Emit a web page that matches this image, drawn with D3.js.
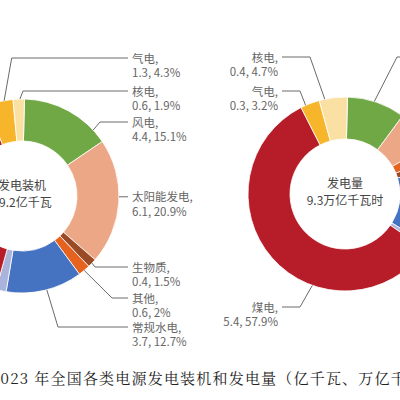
<!DOCTYPE html>
<html>
<head>
<meta charset="utf-8">
<script src="https://cdn.jsdelivr.net/npm/d3@7"></script>
<style>
  body { margin: 0; background: #fff; }
  svg { display: block; }
</style>
</head>
<body>
<div id="chart"></div>
<script>
// 装机容量（亿千瓦）
const capCategories = ['风电', '太阳能发电', '生物质', '其他', '常规水电', '抽水蓄能', '煤电', '气电', '核电'];
const capValues = [4.4, 6.1, 0.4, 0.6, 3.7, 0.5, 11.6, 1.3, 0.6];
const capShares = [15.1, 20.9, 1.5, 2, 12.7, 1.7, 39.9, 4.3, 1.9];

// 发电量（万亿千瓦时）
const genCategories = ['风电', '太阳能发电', '其他', '生物质', '常规水电', '抽水蓄能', '煤电', '气电', '核电'];
const genValues = [0.9, 0.6, 0.2, 0.1, 1.3, 0.1, 5.4, 0.3, 0.4];
const genShares = [9.7, 6.5, 2.2, 1.5, 13.5, 0.8, 57.9, 3.2, 4.7];

const centerTexts = [['发电装机', '29.2亿千瓦'], ['发电量', '9.3万亿千瓦时']];
const titleText = '2023 年全国各类电源发电装机和发电量（亿千瓦、万亿千瓦时）';

const colors = d3.scaleOrdinal()
    .domain(['风电', '太阳能发电', '生物质', '其他', '常规水电', '抽水蓄能', '煤电', '气电', '核电'])
    .range(['#70a845', '#eca886', '#9a4a24', '#e6621f', '#4672c2', '#aab3dc', '#b71d28', '#f6b52a', '#fbe0a3']);

const width = 400, height = 400;
const svg = d3.select('#chart').append('svg')
    .attr('width', width)
    .attr('height', height);

const offset = 1.5 * Math.PI / 180;
const font = '"Noto Sans CJK SC", "Noto Sans", sans-serif';

// 引线布局: t = 扇区内位置, elbow / end = 折点与终点
const capLabels = [
    { cat: '气电', t: 0.66, elbow: [11.7, 58], end: [128, 58], tx: 132, anchor: 'start' },
    { cat: '核电', t: 0.6, elbow: [23, 91], end: [128, 91], tx: 132, anchor: 'start' },
    { cat: '风电', t: 0.84, elbow: [100, 122], end: [128, 122], tx: 132, anchor: 'start' },
    { cat: '太阳能发电', t: 0.46, elbow: null, end: [128, 197], tx: 132, anchor: 'start' },
    { cat: '生物质', t: 0.5, elbow: [95, 267], end: [128, 267], tx: 132, anchor: 'start' },
    { cat: '其他', t: 0.5, elbow: [112, 298], end: [128, 298], tx: 132, anchor: 'start' },
    { cat: '常规水电', t: 0.47, elbow: [58, 327], end: [128, 327], tx: 132, anchor: 'start' }
];
const genLabels = [
    { cat: '核电', t: 0.2, elbow: [310, 57], end: [282, 57], tx: 278, anchor: 'end' },
    { cat: '气电', t: 0.26, elbow: [300, 91], end: [282, 91], tx: 278, anchor: 'end' },
    { cat: '风电', t: 0.46, elbow: [397, 57], end: [420, 57], tx: null }, // 标签在画面外
    { cat: '煤电', t: 0.36, elbow: [300, 307], end: [282, 307], tx: 278, anchor: 'end' }
];

function drawDonut (cx, cy, cats, values, shares, labels, texts) {
    const rows = cats.map((c, i) => ({ cat: c, value: values[i], share: shares[i] }));
    const rOuter = 97, rInner = 55;
    const pie = d3.pie().sort(null).value(d => d.share)
        .startAngle(offset).endAngle(offset + 2 * Math.PI);
    const arcs = pie(rows);
    const arc = d3.arc().innerRadius(rInner).outerRadius(rOuter);

    const g = svg.append('g').attr('transform', `translate(${cx},${cy})`);
    g.selectAll('path.slice')
        .data(arcs)
        .enter()
        .append('path')
        .attr('class', 'slice')
        .attr('d', arc)
        .attr('fill', d => colors(d.data.cat))
        .attr('stroke', '#fff')
        .attr('stroke-width', 0.8);

    g.selectAll('text.center')
        .data(texts)
        .enter()
        .append('text')
        .attr('class', 'center')
        .attr('text-anchor', 'middle')
        .attr('y', (d, i) => i === 0 ? -6 : 11)
        .attr('font-family', font)
        .attr('font-size', 12)
        .attr('fill', '#444')
        .text(d => d);

    labels.forEach(l => {
        const a = arcs.find(d => d.data.cat === l.cat);
        const ang = a.startAngle + l.t * (a.endAngle - a.startAngle);
        const start = [cx + rOuter * Math.sin(ang), cy - rOuter * Math.cos(ang)];
        const pts = l.elbow ? [start, l.elbow, l.end] : [start, [l.end[0], start[1]]];
        svg.append('path')
            .attr('d', d3.line()(pts))
            .attr('fill', 'none')
            .attr('stroke', '#6a6a6a')
            .attr('stroke-width', 1);
        if (l.tx === null) return;
        const ly = l.elbow ? l.end[1] : start[1];
        const t = svg.append('text')
            .attr('text-anchor', l.anchor)
            .attr('font-family', font)
            .attr('font-size', 11.5)
            .attr('fill', '#666');
        t.append('tspan').attr('x', l.tx).attr('y', ly + 4.5).text(`${l.cat},`);
        t.append('tspan').attr('x', l.tx).attr('y', ly + 19)
            .text(`${a.data.value}, ${a.data.share}%`);
    });
}

drawDonut(22, 196, capCategories, capValues, capShares, capLabels, centerTexts[0]);
drawDonut(345, 194, genCategories, genValues, genShares, genLabels, centerTexts[1]);

svg.append('text')
    .attr('x', -9)
    .attr('y', 384)
    .attr('font-family', '"Noto Serif CJK SC", "Noto Sans CJK SC", serif')
    .attr('font-size', 15)
    .attr('letter-spacing', 1.2)
    .attr('fill', '#222')
    .text(titleText);
</script>
</body>
</html>
